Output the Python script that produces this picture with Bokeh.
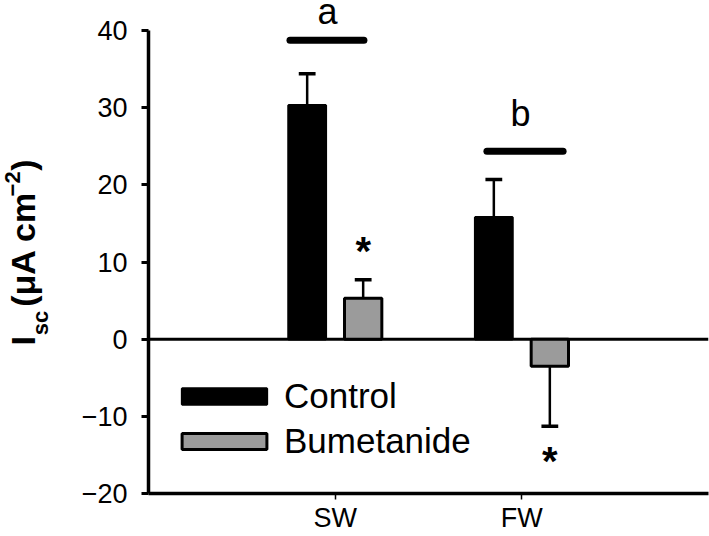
import numpy as np
from bokeh.plotting import figure
from bokeh.layouts import row
from bokeh.models import (Range1d, FixedTicker, Span, Label, Legend, LegendItem)
from bokeh.embed import file_html
from bokeh.resources import INLINE

# ---- data ----
categories = ["SW", "FW"]
cat_pos = [1, 2]
control = [30.3, 15.8]
control_err = [4.1, 4.9]
bumetanide = [5.3, -3.5]
bumetanide_err = [2.4, 7.8]
yticks = [-20, -10, 0, 10, 20, 30, 40]
ytick_labels = ["\u221220", "\u221210", "0", "10", "20", "30", "40"]
sig_letters = ["a", "b"]
sig_letter_y = [42.4, 29.3]
sig_line_y = [38.75, 24.36]
star_y = [11.4, -15.8]

FONT = "Liberation Sans"
GRAY = "#9b9b9b"
off = 0.15
bw = 0.2

# ---------- left strip carrying the y-axis title ----------
lab = figure(width=60, height=536, output_backend="svg", toolbar_location=None,
             x_range=Range1d(0, 60), y_range=Range1d(0, 536),
             x_axis_type=None, y_axis_type=None,
             min_border_left=0, min_border_right=0, min_border_top=0,
             min_border_bottom=0)
lab.grid.visible = False
lab.outline_line_color = None

# (text, baseline x in px, start y (page px from top), font size px)
pieces = [
    ("I", 34, 355, 34),
    ("sc", 48, 344, 22),
    ("(\u03bcA cm", 34, 313, 34),
    ("\u22122", 20, 193, 22),
    (")", 34, 165, 34),
]
for t, bx, sy, fs in pieces:
    lab.add_layout(Label(x=bx - 0.347 * fs, y=536 - (sy + 20), text=t,
                         angle=np.pi / 2,
                         text_align="left", text_baseline="middle",
                         text_font=FONT, text_font_style="bold",
                         text_font_size=f"{fs}px", text_color="black"))

# ---------- main plot ----------
p = figure(width=649, height=536, output_backend="svg", toolbar_location=None,
           x_range=Range1d(0, 3.0), y_range=Range1d(-20, 43.89),
           min_border_left=88, min_border_right=1, min_border_top=0,
           min_border_bottom=43)
p.outline_line_color = None
p.xgrid.visible = False
p.ygrid.visible = False

p.add_layout(Span(location=0, dimension="width", line_color="black",
                  line_width=3, level="underlay"))

xc = [c - off for c in cat_pos]
xb = [c + off for c in cat_pos]
r1 = p.vbar(x=xc, top=control, bottom=0, width=bw, fill_color="black",
            line_color="black", line_width=2.5)
r2 = p.vbar(x=xb, top=bumetanide, bottom=0, width=bw, fill_color=GRAY,
            line_color="black", line_width=3)

cap = 0.045
for xs, vals, errs in [(xc, control, control_err), (xb, bumetanide, bumetanide_err)]:
    ends = [v + np.sign(v) * e for v, e in zip(vals, errs)]
    p.segment(x0=xs, y0=vals, x1=xs, y1=ends, line_color="black", line_width=2.5)
    p.segment(x0=[x - cap for x in xs], y0=ends, x1=[x + cap for x in xs], y1=ends,
              line_color="black", line_width=3.5)

p.segment(x0=[0.758, 1.813], y0=sig_line_y, x1=[1.154, 2.221], y1=sig_line_y,
          line_color="black", line_width=7, line_cap="round")
for xx, yy, t in zip([0.959, 1.993], sig_letter_y, sig_letters):
    p.add_layout(Label(x=xx, y=yy, text=t, text_align="center",
                       text_baseline="middle", text_font=FONT,
                       text_font_size="36px", text_color="black"))
for xx, yy in zip(xb, star_y):
    p.add_layout(Label(x=xx, y=yy, text="*", text_align="center",
                       text_baseline="middle", text_font=FONT,
                       text_font_style="bold", text_font_size="40px",
                       text_color="black"))

p.yaxis.bounds = (-20, 40)
p.yaxis.ticker = FixedTicker(ticks=yticks)
p.yaxis.major_label_overrides = {t: l for t, l in zip(yticks, ytick_labels)}
p.yaxis.axis_line_width = 3.5
p.yaxis.major_tick_line_width = 3
p.yaxis.major_tick_in = 0
p.yaxis.major_tick_out = 7
p.yaxis.minor_tick_line_color = None
p.yaxis.major_label_standoff = 14
p.yaxis.major_label_text_font = FONT
p.yaxis.major_label_text_font_size = "27px"
p.yaxis.major_label_text_color = "black"

p.xaxis.ticker = FixedTicker(ticks=cat_pos)
p.xaxis.major_label_overrides = {c: n for c, n in zip(cat_pos, categories)}
p.xaxis.axis_line_width = 3.5
p.xaxis.major_tick_line_width = 1.5
p.xaxis.major_tick_in = 0
p.xaxis.major_tick_out = 6
p.xaxis.minor_tick_line_color = None
p.xaxis.major_label_standoff = 3
p.xaxis.major_label_text_font = FONT
p.xaxis.major_label_text_font_size = "27px"
p.xaxis.major_label_text_color = "black"

legend = Legend(items=[LegendItem(label="Control", renderers=[r1]),
                       LegendItem(label="Bumetanide", renderers=[r2])],
                location=(23, 30), orientation="vertical",
                glyph_width=106, glyph_height=20, label_standoff=7,
                label_height=45, spacing=0, padding=0, margin=0,
                label_text_font=FONT, label_text_font_size="35px",
                label_text_color="black",
                border_line_alpha=0, background_fill_alpha=0)
p.add_layout(legend)

layout = row(lab, p, spacing=0)
open("out.html", "w").write(file_html(layout, INLINE))
